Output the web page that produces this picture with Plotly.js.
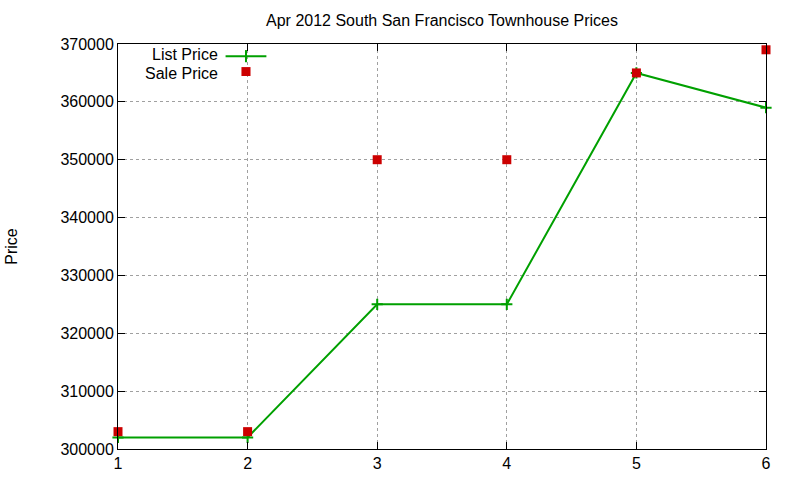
<!DOCTYPE html>
<html>
<head>
<meta charset="utf-8">
<script src="https://cdn.plot.ly/plotly-3.0.1.min.js"></script>
<style>
  html, body { margin: 0; padding: 0; background: #fff; }
  #chart { width: 800px; height: 480px; }
</style>
</head>
<body>
<div id="chart"></div>
<script>
(function () {
    'use strict';

    // Values
    const months = [1, 2, 3, 4, 5, 6];
    const listPrice = [302000, 302000, 325000, 325000, 365000, 359000];
    const salePrice = [303000, 303000, 350000, 350000, 365000, 369000];
    const yTicks = [300000, 310000, 320000, 330000, 340000, 350000, 360000, 370000];

    const COLORS = {
        list: '#00a000',
        sale: '#cc0000',
        grid: '#a0a0a0',
        axis: '#000000',
        text: '#000000'
    };
    const FONT = 'Liberation Sans, Arial, sans-serif';
    const FS = 16;

    const traces = [
        {
            x: months,
            y: listPrice,
            name: 'List Price',
            type: 'scatter',
            mode: 'lines+markers',
            line: { color: COLORS.list, width: 2 },
            marker: { symbol: 'cross-thin', size: 8, line: { color: COLORS.list, width: 2 } },
            cliponaxis: false
        },
        {
            x: months,
            y: salePrice,
            name: 'Sale Price',
            type: 'scatter',
            mode: 'markers',
            marker: { symbol: 'square', size: 9, color: COLORS.sale },
            cliponaxis: false
        }
    ];

    const axisCommon = {
        showline: true,
        linecolor: COLORS.axis,
        linewidth: 1,
        mirror: 'allticks',
        ticks: 'inside',
        ticklen: 7,
        tickcolor: COLORS.axis,
        showgrid: true,
        gridcolor: COLORS.grid,
        griddash: 'dot',
        gridwidth: 1,
        zeroline: false,
        tickfont: { family: FONT, size: FS, color: COLORS.text }
    };

    // Legend drawn gnuplot-style: text first, key sample to the right
    const keyShapes = [
        { type: 'line', xref: 'paper', yref: 'paper', x0: 0.166, x1: 0.229, y0: 0.97, y1: 0.97,
          line: { color: COLORS.list, width: 2 } },
        { type: 'line', xref: 'paper', yref: 'paper', x0: 0.1975, x1: 0.1975, y0: 0.955, y1: 0.985,
          line: { color: COLORS.list, width: 2 } },
        { type: 'rect', xref: 'paper', yref: 'paper', x0: 0.1905, x1: 0.2045, y0: 0.921, y1: 0.943,
          fillcolor: COLORS.sale, line: { width: 0 } }
    ];
    const keyLabels = [
        { text: 'List Price', xref: 'paper', yref: 'paper', x: 0.156, y: 0.975,
          xanchor: 'right', yanchor: 'middle', showarrow: false, borderpad: 0,
          font: { family: FONT, size: FS, color: COLORS.text } },
        { text: 'Sale Price', xref: 'paper', yref: 'paper', x: 0.156, y: 0.927,
          xanchor: 'right', yanchor: 'middle', showarrow: false, borderpad: 0,
          font: { family: FONT, size: FS, color: COLORS.text } }
    ];

    const layout = {
        width: 800,
        height: 480,
        paper_bgcolor: '#ffffff',
        plot_bgcolor: '#ffffff',
        font: { family: FONT, color: COLORS.text, size: FS },
        title: {
            text: 'Apr 2012 South San Francisco Townhouse Prices',
            font: { family: FONT, size: FS, color: COLORS.text },
            x: 0.5, xref: 'paper', xanchor: 'center',
            y: 0.958, yanchor: 'middle'
        },
        margin: { l: 118, r: 34, t: 44, b: 31 },
        showlegend: false,
        xaxis: {
            ...axisCommon,
            range: [1, 6],
            tickvals: months,
            ticktext: months.map(String)
        },
        yaxis: {
            ...axisCommon,
            range: [300000, 370000],
            tickvals: yTicks,
            ticktext: yTicks.map(String),
            title: { text: 'Price', font: { family: FONT, size: FS, color: COLORS.text }, standoff: 38 }
        },
        shapes: keyShapes,
        annotations: keyLabels
    };

    Plotly.newPlot('chart', traces, layout, { displayModeBar: false, staticPlot: true });
})();
</script>
</body>
</html>
